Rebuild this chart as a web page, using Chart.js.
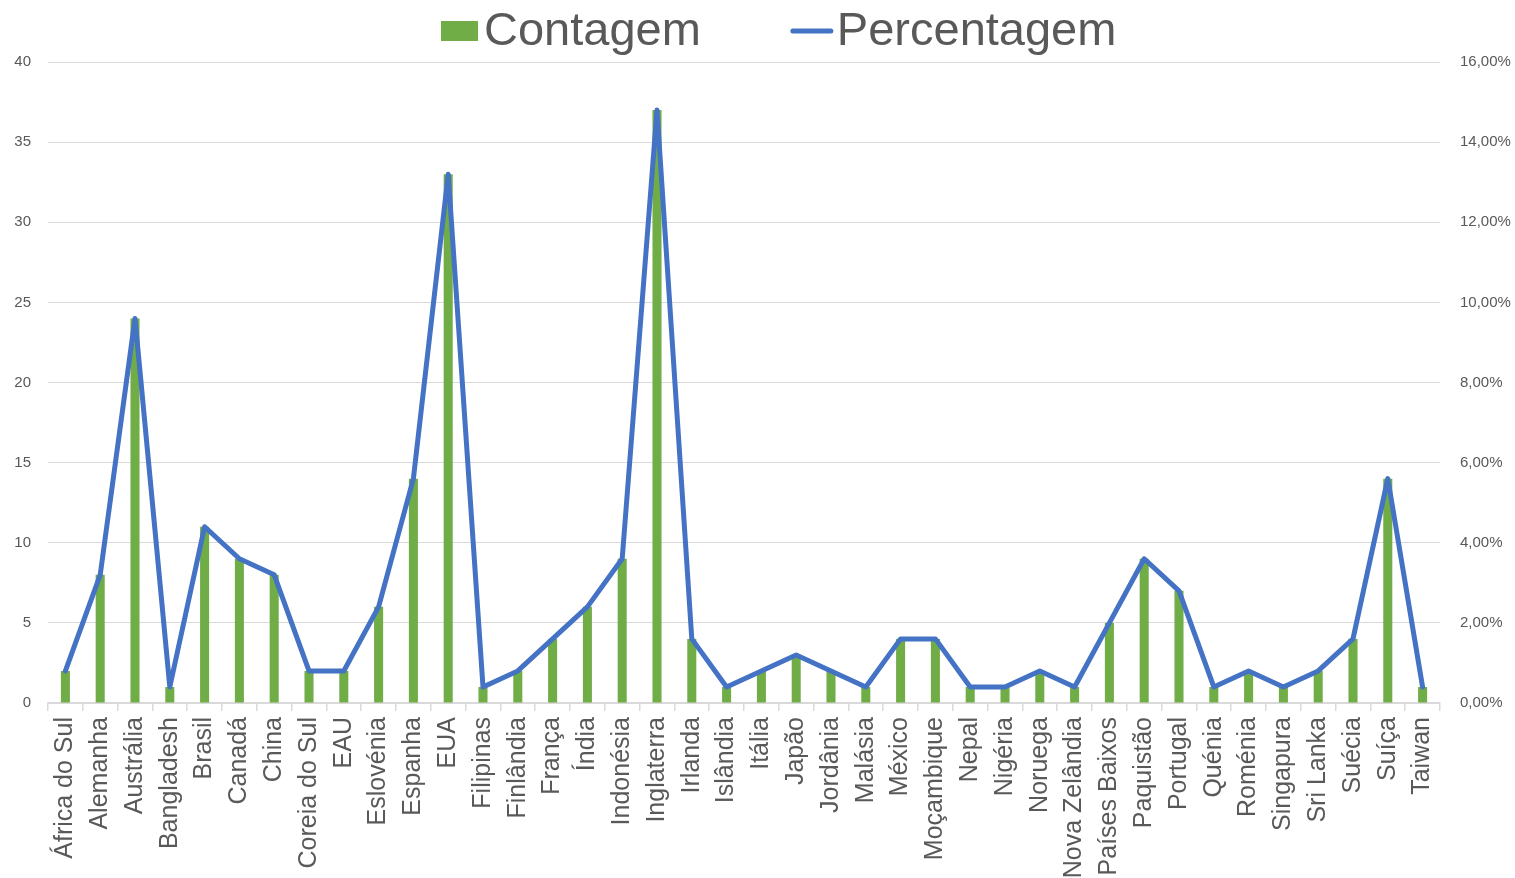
<!DOCTYPE html>
<html lang="pt">
<head>
<meta charset="utf-8">
<title>Contagem e Percentagem por país</title>
<script src="https://cdn.jsdelivr.net/npm/chart.js@4/dist/chart.umd.min.js"></script>
<style>
  html, body { margin: 0; padding: 0; background: #ffffff; }
  canvas { display: block; }
</style>
</head>
<body>
<canvas id="chart" width="1515" height="878"></canvas>
<script>
// Países (eixo das categorias)
const paises = [
  'África do Sul', 'Alemanha', 'Austrália', 'Bangladesh', 'Brasil', 'Canadá',
  'China', 'Coreia do Sul', 'EAU', 'Eslovénia', 'Espanha', 'EUA', 'Filipinas',
  'Finlândia', 'França', 'Índia', 'Indonésia', 'Inglaterra', 'Irlanda',
  'Islândia', 'Itália', 'Japão', 'Jordânia', 'Malásia', 'México', 'Moçambique',
  'Nepal', 'Nigéria', 'Noruega', 'Nova Zelândia', 'Países Baixos', 'Paquistão',
  'Portugal', 'Quénia', 'Roménia', 'Singapura', 'Sri Lanka', 'Suécia', 'Suíça',
  'Taiwan'
];

// Número de ocorrências por país
const contagem = [
  2, 8, 24, 1, 11, 9,
  8, 2, 2, 6, 14, 33, 1,
  2, 4, 6, 9, 37, 4,
  1, 2, 3, 2, 1, 4, 4,
  1, 1, 2, 1, 5, 9,
  7, 1, 2, 1, 2, 4, 14,
  1
];

// Percentagem do total (em %)
const percentagem = [
  0.8, 3.2, 9.6, 0.4, 4.4, 3.6,
  3.2, 0.8, 0.8, 2.4, 5.6, 13.2, 0.4,
  0.8, 1.6, 2.4, 3.6, 14.8, 1.6,
  0.4, 0.8, 1.2, 0.8, 0.4, 1.6, 1.6,
  0.4, 0.4, 0.8, 0.4, 2.0, 3.6,
  2.8, 0.4, 0.8, 0.4, 0.8, 1.6, 5.6,
  0.4
];

// Marcas dos eixos
const ticksContagem = [0, 5, 10, 15, 20, 25, 30, 35, 40];
const ticksPercentagem = [0, 2, 4, 6, 8, 10, 12, 14, 16];

const VERDE = '#70AD47';
const AZUL = '#4472C4';
const CINZA_TEXTO = '#595959';
const CINZA_GRELHA = '#D9D9D9';
const FONTE = '"Liberation Sans", Arial, sans-serif';

// Legenda desenhada no topo do gráfico
const legendaTopo = {
  id: 'legendaTopo',
  afterDraw(chart) {
    const ctx = chart.ctx;
    const ds = chart.data.datasets;
    ctx.save();
    ctx.font = '47px ' + FONTE;
    ctx.fillStyle = CINZA_TEXTO;
    ctx.textBaseline = 'middle';
    const cy = 31;
    let x = 441;
    // Contagem: quadrado verde
    ctx.fillStyle = ds[0].backgroundColor;
    ctx.fillRect(x, cy - 10, 37, 20);
    x += 43;
    ctx.fillStyle = CINZA_TEXTO;
    ctx.fillText(ds[0].label, x, cy + 1);
    x += ctx.measureText(ds[0].label).width + 90;
    // Percentagem: traço azul
    ctx.strokeStyle = ds[1].borderColor;
    ctx.lineWidth = 5;
    ctx.lineCap = 'round';
    ctx.beginPath();
    ctx.moveTo(x + 2, cy);
    ctx.lineTo(x + 40, cy);
    ctx.stroke();
    x += 46;
    ctx.fillText(ds[1].label, x, cy + 1);
    ctx.restore();
  }
};

new Chart(document.getElementById('chart'), {
  data: {
    labels: paises,
    datasets: [
      {
        type: 'bar',
        label: 'Contagem',
        data: contagem,
        backgroundColor: VERDE,
        borderWidth: 0,
        barPercentage: 0.26,
        categoryPercentage: 1,
        yAxisID: 'y',
        order: 2
      },
      {
        type: 'line',
        label: 'Percentagem',
        data: percentagem,
        borderColor: AZUL,
        backgroundColor: AZUL,
        borderWidth: 5,
        borderJoinStyle: 'round',
        borderCapStyle: 'round',
        pointRadius: 0,
        tension: 0,
        fill: false,
        yAxisID: 'y1',
        order: 1
      }
    ]
  },
  options: {
    responsive: false,
    animation: false,
    devicePixelRatio: 1,
    layout: { padding: { top: 62, left: 0, right: 0, bottom: 0 } },
    plugins: {
      legend: { display: false },
      tooltip: { enabled: false }
    },
    scales: {
      x: {
        type: 'category',
        offset: true,
        grid: {
          offset: true,
          drawOnChartArea: false,
          drawTicks: true,
          tickLength: 8,
          color: CINZA_GRELHA,
          lineWidth: 1.5
        },
        border: { display: true, color: CINZA_GRELHA, width: 1.5 },
        ticks: {
          autoSkip: false,
          minRotation: 90,
          maxRotation: 90,
          padding: 6,
          color: CINZA_TEXTO,
          font: { family: FONTE, size: 25 }
        },
        afterFit(scale) { scale.height = 175; }
      },
      y: {
        position: 'left',
        min: 0,
        max: 40,
        afterBuildTicks(scale) {
          scale.ticks = ticksContagem.map(v => ({ value: v }));
        },
        grid: { color: CINZA_GRELHA, lineWidth: 1, drawTicks: false },
        border: { display: false },
        ticks: {
          padding: 17,
          color: CINZA_TEXTO,
          font: { family: FONTE, size: 15 }
        },
        afterFit(scale) { scale.width = 48; }
      },
      y1: {
        position: 'right',
        min: 0,
        max: 16,
        afterBuildTicks(scale) {
          scale.ticks = ticksPercentagem.map(v => ({ value: v }));
        },
        grid: { drawOnChartArea: false, drawTicks: false },
        border: { display: false },
        ticks: {
          padding: 20,
          color: CINZA_TEXTO,
          font: { family: FONTE, size: 15 },
          callback: v => v.toFixed(2).replace('.', ',') + '%'
        },
        afterFit(scale) { scale.width = 75; }
      }
    }
  },
  plugins: [legendaTopo]
});
</script>
</body>
</html>
